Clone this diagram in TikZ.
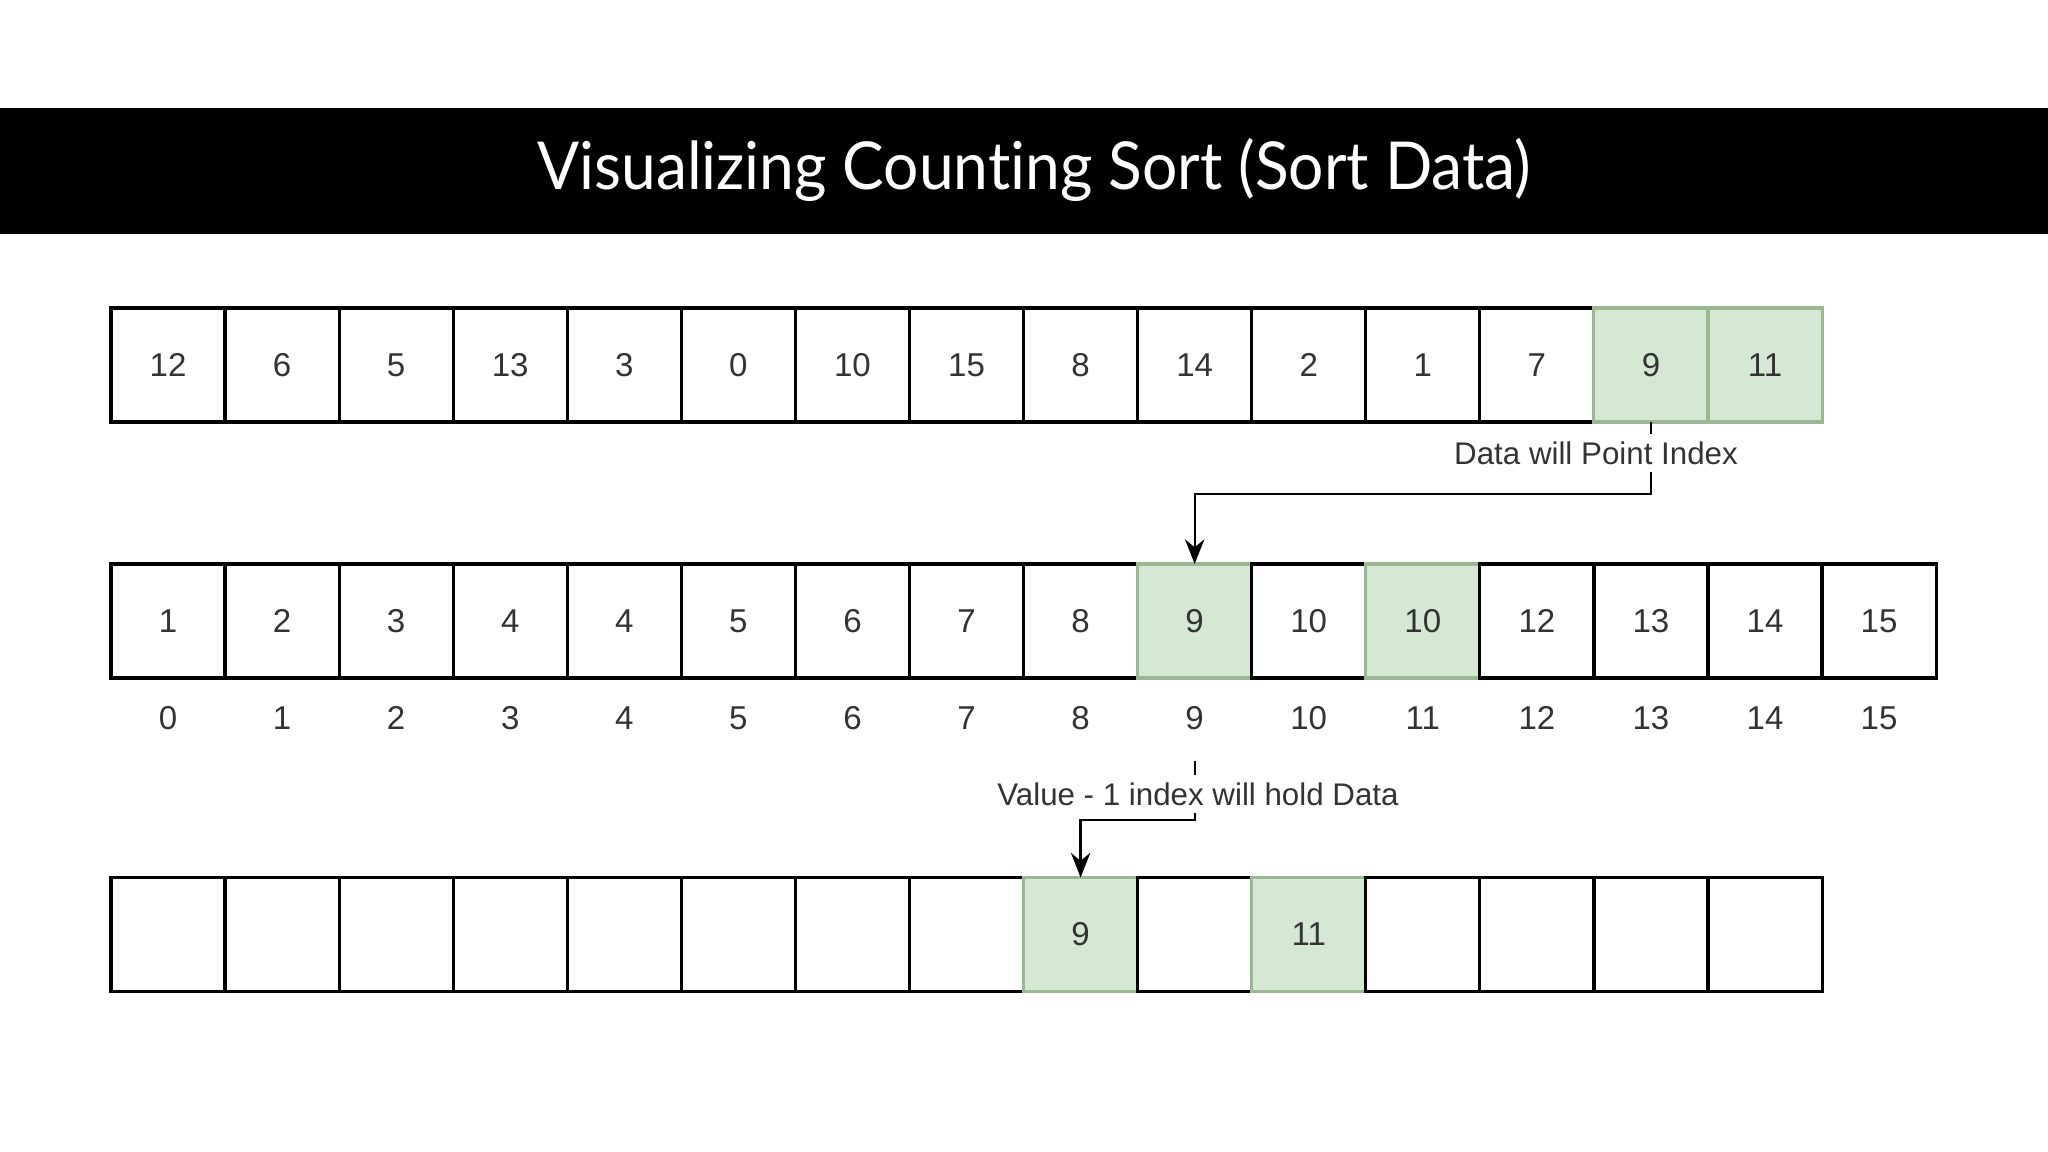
\documentclass[tikz,border=0pt]{standalone}
\usepackage{graphicx}
\usepackage{fontspec}
\setmainfont{Liberation Sans}
\newfontfamily\titlefont[Ligatures=NoCommon]{Lato}
\usetikzlibrary{arrows.meta,calc}
\definecolor{greenfill}{HTML}{D5E8D4}
\definecolor{greenline}{HTML}{9AB891}
\definecolor{txt}{HTML}{333333}
\tikzset{
  cell/.style={draw=black, line width=0.9pt, minimum width=1.1407cm, minimum height=1.14cm,
    inner sep=0pt, outer sep=0pt, font=\fontsize{9.4pt}{11pt}\selectfont, text=txt},
  gcell/.style={cell, fill=greenfill, draw=greenline},
  idx/.style={font=\fontsize{9.4pt}{11pt}\selectfont, text=txt, inner sep=0pt},
  conn/.style={draw=black, line width=0.65pt, -{Stealth[length=7pt,width=5.5pt]}},
  lab/.style={fill=white, font=\fontsize{8.9pt}{10pt}\selectfont, text=txt, inner sep=2pt}
}
\begin{document}
\begin{tikzpicture}[x=0.01cm, y=-0.01cm]
\useasboundingbox (0,0) rectangle (2048,1152);
% title bar
\fill[black] (0,108) rectangle (2048,234);
\node[text=white, anchor=base, inner sep=0pt] (title) at (1034,190)
  {\resizebox{9.93cm}{\height}{\titlefont\fontsize{18.8pt}{20pt}\selectfont Visualizing Counting Sort (Sort Data)}};
% top row
\foreach \v/\s [count=\k from 0] in {12/cell,6/cell,5/cell,13/cell,3/cell,0/cell,10/cell,15/cell,8/cell,14/cell,2/cell,1/cell,7/cell,9/gcell,11/gcell}
  \node[\s] (t\k) at ({111+(\k+0.5)*114.07},365) {\v};
% middle row
\foreach \v/\s [count=\k from 0] in {1/cell,2/cell,3/cell,4/cell,4/cell,5/cell,6/cell,7/cell,8/cell,9/gcell,10/cell,10/gcell,12/cell,13/cell,14/cell,15/cell}
  \node[\s] (m\k) at ({111+(\k+0.5)*114.07},621) {\v};
% index labels
\foreach \k in {0,...,15}
  \node[idx] (i\k) at ({111+(\k+0.5)*114.07},718) {\k};
% bottom row
\foreach \v/\s [count=\k from 0] in {\relax/cell,\relax/cell,\relax/cell,\relax/cell,\relax/cell,\relax/cell,\relax/cell,\relax/cell,9/gcell,\relax/cell,11/gcell,\relax/cell,\relax/cell,\relax/cell,\relax/cell}
  \node[\s] (b\k) at ({111+(\k+0.5)*114.07},934.5) {\v};
% connector 1
\coordinate (e1) at ($(t13.south)+(0,72)$);
\draw[conn] (t13.south) -- (e1) -| (m9.north);
\node[lab] (l1) at (1596,453) {Data will Point Index};
% connector 2
\coordinate (s2) at (1195,761);
\coordinate (e2) at (1195,820);
\draw[conn] (s2) -- (e2) -| (b8.north);
\node[lab] (l2) at (1198,794) {Value - 1 index will hold Data};
\end{tikzpicture}
\end{document}
